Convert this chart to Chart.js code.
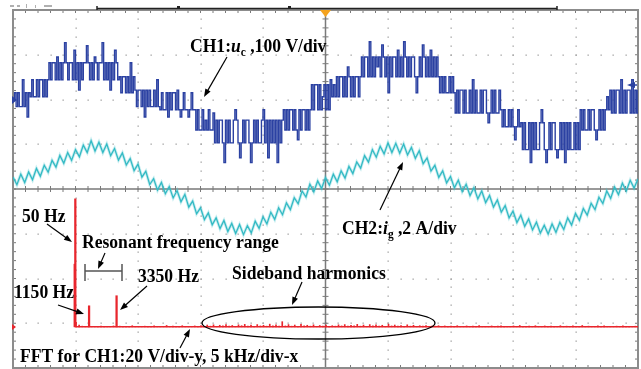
<!DOCTYPE html>
<html>
<head>
<meta charset="utf-8">
<script src="https://cdn.jsdelivr.net/npm/chart.js@4.4.0/dist/chart.umd.min.js"></script>
<style>
  html, body { margin: 0; padding: 0; background: #fff; }
</style>
</head>
<body>
<canvas id="scope" width="641" height="369"></canvas>
<script>
// scope: 4 ms/div time base, 10 x 8 divisions

// CH1 u_c, volts (100 V/div), one sample every 0.1 ms
let ch1Step = 0.1;
let ch1Volts = [
  2, 15, -16, 15, -16, -16, 44, -16, 15, -39, 15,
  6, 44, 6, 6, 44, 6, 44, 44, 6, 44, 6,
  44, 82, 44, 82, 82, 44, 95, 44, 82, 44, 82, 127, 82, 44, 82, 82, 44, 110, 44, 82,
  21, 82, 44, 82, 82, 120, 82, 44, 82, 44, 95, 82, 44, 82, 82, 127, 44, 82, 44, 82,
  21, 82, 44, 110, 82, 44,
  51, 15, 51, 51, 15, 51, 15, 82, 15, 51,
  21, -16, 21, 21, -16, 21, -39, 21, -16, 21, -16, -16, 21, -16, 44, -16,
  -23, 15, -23, -23, 15, -39, 15, -23, 15, 15, -23, 21, -23, -39, -23, 15, -23, -23, -39, -23, 15, -23,
  -23, -68, -23, -68, -68, -23, -68, -46, -68, -23, -68, -68, -30,
  -97, -46, -97, -46, -46, -97, -141, -46, -97, -46, -97, -97, -46, -23, -46, -97, -130, -97, -46, -97,
  -46, -46, -97, -141, -97, -46, -97, -46, -97, -97, -46, -23, -97, -46, -130, -46, -97, -46, -97, -46,
  -141, -46, -97, -46, -23,
  -68, -23, -68, -23, -23, -68, -23, -68, -90, -23, -68, -23, -23, -68, -23, -68,
  -23, 33, -23, 33, 33, -23, 33, -23, 6, 33, -23, 33, -23, 44, 6, 33,
  6, 51, 6, 51, 51, 6, 51, 6, 73, 51, 6, 51, 6, 51, 51, 6,
  51, 95, 51, 95, 95, 51, 129, 51, 95, 51, 95, 73, 95, 51, 122, 95, 51, 95, 15, 95,
  51, 95, 95, 51, 110, 51, 95, 51, 129, 95, 51, 95, 51, 95, 95, 51, 15, 51, 95, 51,
  122, 95, 51, 95, 51, 110, 51, 95, 51, 95, 51,
  15, 51, 15, 51, 15, 15, 51, 15, 51, 15,
  -30, 21, -30, 21, 21, -30, 21, -30, -30, 21, -30, 44, -30, 21, -30, -30, 21, -30, 21, 21,
  -30, -52, -30, 21, -30, 21, -30, -30, 21,
  -23, -61, -23, -61, -61, -23, -61, -23, -61, -90, -61, -23, -61,
  -52, -112, -52, -112, -112, -52, -141, -52, -112, -52, -112, -112, -52, -23, -52, -112, -141, -112, -52, -112,
  -52, -52, -112, -130, -112, -52, -112, -52, -141, -52, -112, -52, -112, -112, -52, -112, -52, -112,
  -23, -68, -23, -68, -68, -23, -68, -23, -23, -68, -90, -68, -23, -68, -23, -68, -23, 6, -23,
  21, -30, 21, -30, 21, 21, -30, 44, -30, 21, -30, 21, 21, -30, 44, -30, 21, -30, 21
];

// CH2 i_g, amps (2 A/div), one sample every 0.25 ms
let ch2Step = 0.25;
let ch2Amps = [
  0.53, 0.19, 0.66, 0.29, 0.76, 0.41, 0.92, 0.57,
  1.06, 0.75, 1.28, 0.98, 1.50, 1.15, 1.63, 1.28,
  1.76, 1.44, 1.96, 1.63, 2.16, 1.70, 2.09, 1.63,
  2.01, 1.49, 1.81, 1.29, 1.61, 1.07, 1.36, 0.82,
  1.11, 0.53, 0.79, 0.20, 0.46, -0.05, 0.29, -0.21,
  0.11, -0.40, -0.07, -0.57, -0.24, -0.81, -0.54, -1.11,
  -0.84, -1.37, -1.07, -1.60, -1.29, -1.77, -1.41, -1.90,
  -1.54, -1.99, -1.59, -2.04, -1.64, -1.96, -1.44, -1.76,
  -1.24, -1.56, -1.04, -1.36, -0.84, -1.15, -0.62, -0.92,
  -0.39, -0.66, -0.09, -0.36, 0.21, -0.13, 0.36, 0.02,
  0.51, 0.17, 0.66, 0.32, 0.81, 0.49, 1.01, 0.69,
  1.21, 0.93, 1.49, 1.20, 1.76, 1.42, 1.91, 1.57,
  2.06, 1.63, 2.04, 1.60, 2.01, 1.52, 1.86, 1.37,
  1.71, 1.13, 1.39, 0.80, 1.06, 0.52, 0.81, 0.27,
  0.56, 0.05, 0.39, -0.12, 0.21, -0.29, 0.06, -0.44,
  -0.09, -0.61, -0.29, -0.81, -0.49, -1.04, -0.74, -1.29,
  -0.99, -1.50, -1.17, -1.67, -1.34, -1.83, -1.48, -1.97,
  -1.62, -2.01, -1.56, -1.94, -1.49, -1.81, -1.29, -1.61,
  -1.09, -1.40, -0.87, -1.17, -0.64, -0.92, -0.37, -0.65,
  -0.09, -0.42, 0.09, -0.25, 0.26, -0.09, 0.39, 0.04,
  0.45
];

// FFT of CH1 (20 V/div, 5 kHz/div)
let harmFreq = [0, 0.05, 1.15, 3.35];      // kHz
let harmAmp = [28, 57.2, 9.4, 13.9];       // V
let floorStep = 0.25;                      // kHz
let floorAmp = [
  2.0, 0.8, 0.3, 0.2, 0.1, 0.2, 0.1, 0.1, 0.3, 0.1, 0.2, 0.1, 0.4, 0.1,
  0.3, 0.1, 0.2, 0.1, 0.5, 0.1, 0.2, 0.1, 0.3, 0.1,
  0.1, 0.4, 0.1, 0.2, 0.1, 0.6, 0.1, 0.3, 0.1, 0.2,
  0.5, 0.1, 0.2, 0.1, 0.4, 0.1,
  0.6, 0.2, 0.8, 0.3, 0.9, 0.2, 0.7, 0.4, 1.0, 0.3,
  0.6, 0.2, 0.9, 0.5, 1.1, 0.3, 0.8, 0.2, 1.0, 0.4,
  0.7, 0.3, 1.2, 0.5, 0.9, 0.3, 2.3, 0.4, 1.0, 0.3,
  0.8, 0.2, 1.1, 0.4, 0.7, 0.3, 0.9, 0.2, 0.6, 0.3,
  0.8, 0.2, 0.5, 0.3, 0.9, 0.4, 1.0, 0.3, 0.7, 0.5,
  1.1, 0.3, 0.8, 0.2, 1.0, 0.4, 0.9, 0.3, 0.7, 0.2,
  1.2, 0.4, 0.8, 0.3, 0.6, 0.2, 0.9, 0.3, 0.7, 0.2,
  0.5, 0.3, 0.6, 0.2, 0.4, 0.3, 0.5,
  0.2, 0.4, 0.1, 0.3, 0.1, 0.5, 0.1, 0.2, 0.4, 0.1,
  0.3, 0.1, 0.6, 0.1, 0.2, 0.1, 0.4, 0.1, 0.3, 0.5,
  0.1, 0.2, 0.1, 0.4, 0.1, 0.6, 0.2, 0.1, 0.3, 0.1,
  0.5, 0.1, 0.2, 0.4, 0.1, 0.3, 0.1, 0.2, 0.5, 0.1,
  0.3, 0.1, 0.4, 0.1, 0.2, 0.6, 0.1, 0.3, 0.1, 0.2,
  0.4, 0.1, 0.5, 0.1, 0.2, 0.1, 0.3, 0.1, 0.4, 0.1,
  0.2, 0.1, 0.3, 0.1
];
let fftSpan = [0, 45];                     // kHz, red trace start/end

const SERIF = '"Liberation Serif", "DejaVu Serif", serif';
const FONT = 'bold 18.5px ' + SERIF;

// dotted graticule, centre cross and frame
const graticule = {
  id: "graticule",
  beforeDatasetsDraw(chart) {
    const ctx = chart.ctx;
    const sx = chart.scales.x, sy = chart.scales.y;
    const a = chart.chartArea;
    ctx.save();
    ctx.fillStyle = "#a0a0a0";
    for (let k = 1; k < 10; k++) {
      if (k === 5) continue;
      const px = sx.getPixelForValue(k * 4);
      for (let m = 0; m <= 40; m++) {
        ctx.fillRect(Math.round(px) - 0.5, Math.round(sy.getPixelForValue(-4 + m * 0.2)) - 0.5, 1.3, 1.3);
      }
    }
    for (let k = 1; k < 8; k++) {
      if (k === 4) continue;
      const py = sy.getPixelForValue(-4 + k);
      for (let m = 0; m <= 50; m++) {
        ctx.fillRect(Math.round(sx.getPixelForValue(m * 0.8)) - 0.5, Math.round(py) - 0.5, 1.3, 1.3);
      }
    }
    // centre cross with minor ticks
    const cx = sx.getPixelForValue(20), cy = sy.getPixelForValue(0);
    ctx.strokeStyle = "#7a7a7a";
    ctx.lineWidth = 1.5;
    ctx.beginPath();
    ctx.moveTo(a.left, cy); ctx.lineTo(a.right, cy);
    ctx.moveTo(cx, a.top); ctx.lineTo(cx, a.bottom);
    ctx.stroke();
    ctx.lineWidth = 1;
    ctx.beginPath();
    for (let m = 0; m <= 50; m++) {
      const px = sx.getPixelForValue(m * 0.8);
      ctx.moveTo(px, cy - 3); ctx.lineTo(px, cy + 3);
      ctx.moveTo(px, a.top); ctx.lineTo(px, a.top + 3);
      ctx.moveTo(px, a.bottom); ctx.lineTo(px, a.bottom - 3);
    }
    for (let m = 0; m <= 40; m++) {
      const py = sy.getPixelForValue(-4 + m * 0.2);
      ctx.moveTo(cx - 3, py); ctx.lineTo(cx + 3, py);
      ctx.moveTo(a.left, py); ctx.lineTo(a.left + 3, py);
      ctx.moveTo(a.right, py); ctx.lineTo(a.right - 3, py);
    }
    ctx.stroke();
    ctx.strokeStyle = "#8c8c8c";
    ctx.lineWidth = 2;
    ctx.strokeRect(a.left, a.top, a.right - a.left, a.bottom - a.top);
    ctx.restore();
  },
};

function arrow(ctx, x1, y1, x2, y2) {
  const ang = Math.atan2(y2 - y1, x2 - x1);
  const len = 8, w = 3;
  ctx.beginPath();
  ctx.moveTo(x1, y1);
  ctx.lineTo(x2 - Math.cos(ang) * len * 0.7, y2 - Math.sin(ang) * len * 0.7);
  ctx.stroke();
  ctx.beginPath();
  ctx.moveTo(x2, y2);
  ctx.lineTo(x2 - Math.cos(ang) * len + Math.sin(ang) * w, y2 - Math.sin(ang) * len - Math.cos(ang) * w);
  ctx.lineTo(x2 - Math.cos(ang) * len - Math.sin(ang) * w, y2 - Math.sin(ang) * len + Math.cos(ang) * w);
  ctx.closePath();
  ctx.fill();
}

// text runs: [text, style] with style n = normal, i = italic, s = subscript
function label(ctx, parts, x, y) {
  ctx.save();
  ctx.translate(x, y);
  ctx.scale(0.95, 1);
  let cx = 0;
  parts.forEach(([t, st]) => {
    if (st === "i") ctx.font = "italic " + FONT;
    else if (st === "s") ctx.font = "bold 12px " + SERIF;
    else ctx.font = FONT;
    ctx.fillText(t, cx, st === "s" ? 4 : 0);
    cx += ctx.measureText(t).width;
  });
  ctx.restore();
}

const notes = {
  id: "notes",
  afterDraw(chart) {
    const ctx = chart.ctx;
    ctx.save();
    ctx.fillStyle = "#000";
    ctx.strokeStyle = "#000";
    ctx.lineWidth = 1.2;
    ctx.textBaseline = "alphabetic";

    label(ctx, [["CH1:", "n"], ["u", "i"], ["c", "s"], [" ,100 V/div", "n"]], 190, 52);
    label(ctx, [["CH2:", "n"], ["i", "i"], ["g", "s"], [" ,2 A/div", "n"]], 342, 234);
    label(ctx, [["50 Hz", "n"]], 22, 222);
    label(ctx, [["Resonant frequency range", "n"]], 82, 248);
    label(ctx, [["3350 Hz", "n"]], 138, 282);
    label(ctx, [["1150 Hz", "n"]], 14, 298);
    label(ctx, [["Sideband harmonics", "n"]], 232, 279);
    label(ctx, [["FFT for CH1:20 V/div-y, 5 kHz/div-x", "n"]], 20, 362);

    [
      [227, 57, 204, 97],
      [380, 210, 403, 162],
      [47, 224, 72, 242],
      [105, 253, 98, 269],
      [147, 286, 120, 310],
      [58, 305, 84, 314],
      [302, 282, 292, 305],
      [180, 348, 190, 329],
    ].forEach((a) => arrow(ctx, ...a));

    // bracket for the resonant range
    ctx.strokeStyle = "#555";
    ctx.lineWidth = 1.5;
    ctx.beginPath();
    ctx.moveTo(85, 271); ctx.lineTo(122, 271);
    ctx.moveTo(85, 264); ctx.lineTo(85, 281);
    ctx.moveTo(122, 264); ctx.lineTo(122, 281);
    ctx.stroke();

    // sideband ellipse
    ctx.strokeStyle = "#000";
    ctx.lineWidth = 1.3;
    ctx.beginPath();
    ctx.ellipse(318.5, 323, 116.5, 16, 0, 0, Math.PI * 2);
    ctx.stroke();

    // top status strip and trigger marker
    ctx.strokeStyle = "#222";
    ctx.lineWidth = 1.5;
    ctx.beginPath();
    ctx.moveTo(97, 8.5); ctx.lineTo(557, 8.5);
    ctx.moveTo(97, 6); ctx.lineTo(97, 10);
    ctx.moveTo(557, 6); ctx.lineTo(557, 10);
    ctx.stroke();
    ctx.fillStyle = "#222";
    ctx.fillRect(177, 6, 3, 3);
    ctx.fillRect(288, 6, 3, 3);
    ctx.fillStyle = "#b0b0b0";
    ctx.fillRect(10, 5, 4, 2);
    ctx.fillRect(17, 5, 3, 2);
    ctx.fillRect(26, 4, 1, 4);
    ctx.fillRect(35, 5, 1, 3);
    ctx.fillRect(44, 5, 8, 2);
    ctx.fillStyle = "#f5a31e";
    ctx.beginPath();
    ctx.moveTo(320, 10); ctx.lineTo(331, 10); ctx.lineTo(325.5, 17);
    ctx.closePath();
    ctx.fill();

    // channel markers
    ctx.fillStyle = "#2c43a0";
    ctx.beginPath();
    ctx.moveTo(12, 96); ctx.lineTo(17, 100); ctx.lineTo(12, 104);
    ctx.fill();
    ctx.strokeStyle = "#2c43a0";
    ctx.lineWidth = 1.5;
    arrow(ctx, 637, 85, 627, 85);
    ctx.fillStyle = "#e8262d";
    ctx.beginPath();
    ctx.moveTo(12, 324); ctx.lineTo(16, 327); ctx.lineTo(12, 330);
    ctx.fill();
    ctx.restore();
  },
};

const ch1Points = ch1Volts.map((v, i) => ({ x: i * ch1Step, y: v }));
const ch2Points = ch2Amps.map((v, i) => ({ x: i * ch2Step, y: v }));

new Chart(document.getElementById("scope").getContext("2d"), {
  type: "line",
  data: {
    datasets: [
      {
        label: "CH1",
        data: ch1Points,
        xAxisID: "x",
        yAxisID: "yCH1",
        borderColor: "#2b41a2",
        borderWidth: 1.4,
        stepped: true,
        pointRadius: 0,
      },
      {
        label: "CH2",
        data: ch2Points,
        xAxisID: "x",
        yAxisID: "yCH2",
        borderColor: "#33bac4",
        borderWidth: 1.3,
        pointRadius: 0,
      },
      {
        label: "CH2 glow",
        data: ch2Points,
        xAxisID: "x",
        yAxisID: "yCH2",
        borderColor: "rgba(70, 195, 205, 0.3)",
        borderWidth: 3,
        pointRadius: 0,
      },
      {
        type: "bar",
        label: "harmonics",
        data: harmFreq.map((f, i) => ({ x: f, y: harmAmp[i] })),
        xAxisID: "xFFT",
        yAxisID: "yFFT",
        backgroundColor: "#e8262d",
        barThickness: 1.6,
      },
      {
        type: "bar",
        label: "noise floor",
        data: floorAmp.map((v, i) => ({ x: i * floorStep, y: v })),
        xAxisID: "xFFT",
        yAxisID: "yFFT",
        backgroundColor: "#e8262d",
        barThickness: 1,
      },
      {
        label: "FFT",
        data: fftSpan.map((f) => ({ x: f, y: 0 })),
        xAxisID: "xFFT",
        yAxisID: "yFFT",
        borderColor: "#e8262d",
        borderWidth: 1.5,
        pointRadius: 0,
      },
    ],
  },
  options: {
    responsive: false,
    animation: false,
    devicePixelRatio: 1,
    layout: { padding: { left: 13, right: 3, top: 10, bottom: 1 } },
    plugins: { legend: { display: false }, tooltip: { enabled: false } },
    scales: {
      x: { type: "linear", min: 0, max: 40, display: false },
      xFFT: { type: "linear", min: -5, max: 45, display: false, offset: false },
      y: { type: "linear", min: -4, max: 4, display: false },
      yCH1: { type: "linear", min: -600, max: 200, display: false },
      yCH2: { type: "linear", min: -8, max: 8, display: false },
      yFFT: { type: "linear", min: -18.4, max: 141.6, display: false },
    },
  },
  plugins: [graticule, notes],
});
</script>
</body>
</html>
